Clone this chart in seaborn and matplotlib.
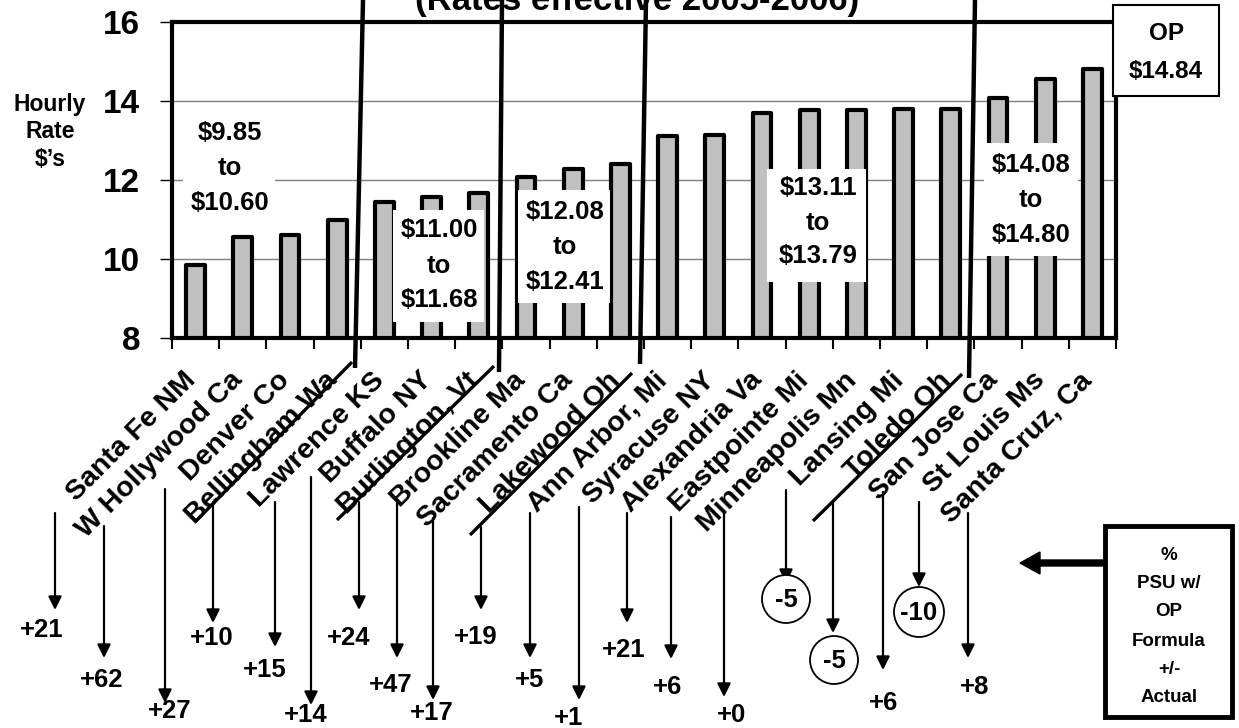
import numpy as np
import pandas as pd
import seaborn as sns
import matplotlib.pyplot as plt
from matplotlib.patches import Rectangle, Circle, FancyArrow

# ---- data -------------------------------------------------------------
cities = ["Santa Fe NM", "W Hollywood Ca", "Denver Co", "Bellingham Wa",
          "Lawrence KS", "Buffalo NY", "Burlington, Vt", "Brookline Ma",
          "Sacramento Ca", "Lakewood Oh", "Ann Arbor, Mi", "Syracuse NY",
          "Alexandria Va", "Eastpointe Mi", "Minneapolis Mn", "Lansing Mi",
          "Toledo Oh", "San Jose Ca", "St Louis Ms", "Santa Cruz, Ca"]
hourly_rate = [9.85, 10.56, 10.60, 11.00, 11.45, 11.58, 11.68, 12.08,
               12.27, 12.41, 13.11, 13.14, 13.69, 13.76, 13.77, 13.79,
               13.79, 14.08, 14.56, 14.80]
psu_diff = [21, 62, 27, 10, 15, 14, 24, 47, 17, 19,
            5, 1, 21, 6, 0, -5, -5, 6, -10, 8]
range_labels = [("$9.85", "$10.60"), ("$11.00", "$11.68"), ("$12.08", "$12.41"),
                ("$13.11", "$13.79"), ("$14.08", "$14.80")]
op_rate = "$14.84"
y_ticks = [8, 10, 12, 14, 16]

# ---- layout (figure pixels, origin top-left) ---------------------------
W, H = 1239, 728
arrow_x = [55, 104, 165, 213, 275, 311, 359, 397, 433, 481,
           530, 579, 627, 671, 724, 786, 833, 883, 919, 968]
arrow_top = [513, 526, 489, 502, 502, 477, 502, 503, 518, 527,
             513, 507, 513, 517, 513, 490, 502, 492, 502, 513]
arrow_tip = [610, 658, 703, 623, 647, 705, 610, 658, 700, 610,
             658, 700, 623, 659, 697, 583, 633, 670, 587, 658]
label_x = [42, 102, 170, 212, 265, 306, 349, 391, 432, 476,
           530, 569, 624, 667, 731, 786, 834, 883, 919, 975]
label_y = [629, 679, 710, 637, 669, 714, 637, 684, 712, 636,
           679, 717, 649, 686, 714, 599, 660, 702, 612, 686]
range_boxes = [(183, 115, 275, 222), (393, 210, 484, 322), (518, 190, 610, 303),
               (767, 169, 866, 282), (984, 143, 1078, 256)]
range_text_y = [(133, 168, 203), (230, 266, 300), (212, 247, 282),
                (188, 223, 256), (165, 200, 235)]
range_text_x = [230, 439, 565, 818, 1031]
separators = [((363, 0), (355, 368), (352, 362), (195, 522)),
              ((502, 0), (499, 372), (494, 366), (337, 520)),
              ((646, 0), (640, 364), (632, 373), (470, 535)),
              ((975, 0), (969, 378), (962, 374), (813, 521))]
label_shift = 0.28   # city labels end slightly left of each bar

plt.rcParams['font.family'] = ['Liberation Sans', 'DejaVu Sans']
plt.rcParams['font.weight'] = 'bold'

fig = plt.figure(figsize=(W / 100, H / 100), dpi=100)
fig.patch.set_facecolor('white')

ax = fig.add_axes([172 / W, 1 - 338 / H, (1116 - 172) / W, (338 - 22) / H])
df = pd.DataFrame({"city": cities, "rate": hourly_rate})
sns.barplot(data=df, x="city", y="rate", ax=ax, color="#C0C0C0",
            saturation=1, width=0.4, edgecolor="black", linewidth=3)
for p in ax.patches:
    p.set_joinstyle('round')

ax.set_ylim(8, 16)
ax.set_xlim(-0.5, len(cities) - 0.5)
ax.set_yticks(y_ticks)
ax.set_yticklabels([str(t) for t in y_ticks], fontsize=24, fontweight='bold')
ax.set_xticks(np.arange(len(cities)) - label_shift)
ax.set_xticklabels(cities, rotation=45, ha='right', rotation_mode='anchor',
                   fontsize=20.5, fontweight='bold')
ax.set_xticks(np.arange(-0.5, len(cities), 1), minor=True)
ax.tick_params(axis='x', which='major', length=0, pad=21)
ax.tick_params(axis='x', which='minor', length=8, width=1.5, color='black')
ax.tick_params(axis='y', which='major', length=9, width=1, pad=14, color='black')
ax.set_xlabel("")
ax.set_ylabel("")
ax.yaxis.grid(True, color='#808080', linewidth=1)
ax.set_axisbelow(True)
for s in ax.spines.values():
    s.set_visible(True)
    s.set_linewidth(3)
    s.set_color('black')

# ---- overlay in pixel coordinates for callouts --------------------------
ov = fig.add_axes([0, 0, 1, 1])
ov.set_xlim(0, W)
ov.set_ylim(H, 0)
ov.axis('off')
ov.patch.set_alpha(0)

bold = dict(fontweight='bold', ha='center', va='center', color='black')

# group range boxes
for (x0, y0, x1, y1), (lo, hi), ys, tx in zip(range_boxes, range_labels,
                                              range_text_y, range_text_x):
    ov.add_patch(Rectangle((x0, y0), x1 - x0, y1 - y0, facecolor='white',
                           edgecolor='none', zorder=3))
    for txt, yy in zip((lo, "to", hi), ys):
        ov.text(tx, yy, txt, fontsize=18.5, zorder=4, **bold)

# separators with slanted underlines
for top, bot, d0, d1 in separators:
    ov.plot([top[0], bot[0]], [top[1], bot[1]], color='black', lw=3.2,
            solid_capstyle='butt', zorder=5)
    ov.plot([d0[0], d1[0]], [d0[1], d1[1]], color='black', lw=2.4,
            solid_capstyle='butt', zorder=5)

# OP box
ov.add_patch(Rectangle((1113, 5), 106, 91, facecolor='white',
                       edgecolor='black', lw=1.5, zorder=6))
ov.text(1166, 33, "OP", fontsize=17.5, zorder=7, **bold)
ov.text(1166, 71, op_rate, fontsize=17.5, zorder=7, **bold)

# axis caption
for txt, yy in zip(("Hourly", "Rate", "$\u2019s"), (104, 132, 160)):
    ov.text(50, yy, txt, fontsize=16.5, **bold)

# title (second line of heading)
ov.text(637, 10, "(Rates effective 2005-2006)", fontsize=25, fontweight='bold',
        ha='center', va='baseline')

# percentage callouts
for v, x, y0, y1, lx, ly in zip(psu_diff, arrow_x, arrow_top, arrow_tip,
                                label_x, label_y):
    ov.annotate("", xy=(x, y1), xytext=(x, y0),
                arrowprops=dict(arrowstyle='-|>', lw=1.6, color='black',
                                mutation_scale=20, shrinkA=0, shrinkB=0))
    txt = f"{v:+d}" if v != 0 else "+0"
    if v < 0:
        r = 25 if v <= -10 else 24
        ov.add_patch(Circle((lx, ly), r, facecolor='white', edgecolor='black',
                            lw=1.3, zorder=4))
    ov.text(lx, ly + 1, txt, fontsize=18.5, zorder=5, **bold)

# legend box with pointer
ov.add_patch(Rectangle((1105, 526), 127, 191, facecolor='white',
                       edgecolor='black', lw=3.5, zorder=4))
for txt, yy in zip(("%", "PSU w/", "OP", "Formula", "+/-", "Actual"),
                   (555, 584, 612, 641, 669, 697)):
    ov.text(1169, yy, txt, fontsize=13.5, zorder=5, **bold)
ov.add_patch(FancyArrow(1105, 563, -85, 0, width=6, head_width=22,
                        head_length=20, length_includes_head=True,
                        color='black', zorder=5))

fig.savefig("out.png", dpi=100, facecolor='white')
